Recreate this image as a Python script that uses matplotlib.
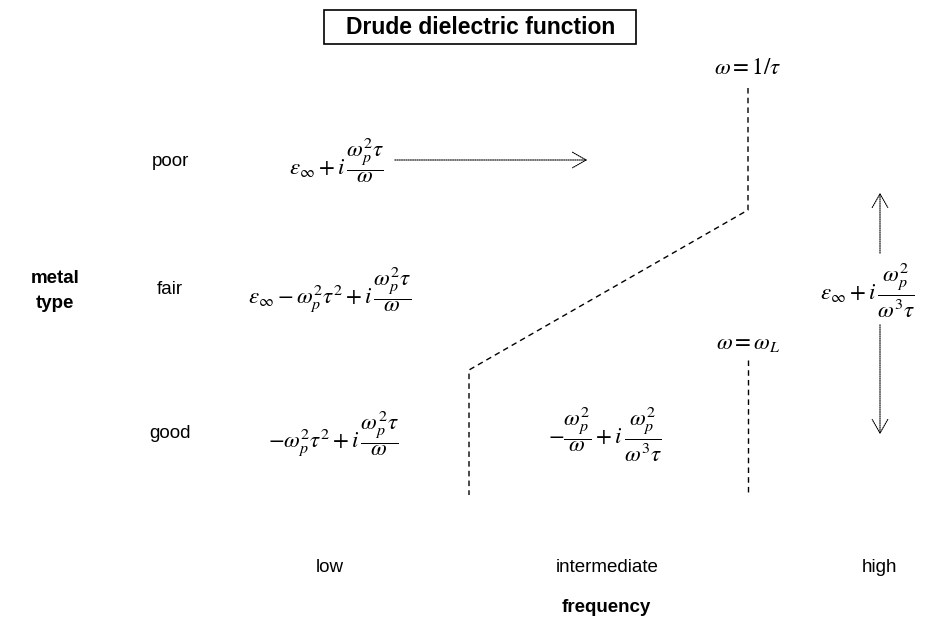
import matplotlib.pyplot as plt
from matplotlib.patches import Rectangle

plt.rcParams["mathtext.fontset"] = "stix"
plt.rcParams["font.family"] = ["Liberation Sans", "DejaVu Sans"]

TITLE = "Drude dielectric function"
METAL_LABELS = ["poor", "fair", "good"]
FREQ_LABELS = ["low", "intermediate", "high"]
FORMULAS = {
    "poor_low": r"$\varepsilon_\infty + i\,\dfrac{\omega_p^2\tau}{\omega}$",
    "fair_low": r"$\varepsilon_\infty - \omega_p^2\tau^2 + i\,\dfrac{\omega_p^2\tau}{\omega}$",
    "good_low": r"$-\omega_p^2\tau^2 + i\,\dfrac{\omega_p^2\tau}{\omega}$",
    "good_mid": r"$-\dfrac{\omega_p^2}{\omega} + i\,\dfrac{\omega_p^2}{\omega^3\tau}$",
    "high": r"$\varepsilon_\infty + i\,\dfrac{\omega_p^2}{\omega^3\tau}$",
}
BOUNDARY_LABELS = [r"$\omega = 1/\tau$", r"$\omega = \omega_L$"]

# layout in pixel coordinates of the 928x628 canvas
ROW_Y = [161, 290, 434]
COL_X = [330, 607, 880]

fig = plt.figure(figsize=(9.28, 6.28), dpi=100)
ax = fig.add_axes([0, 0, 1, 1])
ax.set_xlim(0, 928)
ax.set_ylim(628, 0)
ax.axis("off")

# title in an outlined box
ax.add_patch(Rectangle((324, 10), 312, 34, fc="white", ec="black", lw=1.2))
ax.text(481, 27, TITLE, ha="center", va="center", fontsize=16.5, fontweight="bold")

for label, y in zip(METAL_LABELS, ROW_Y):
    ax.text(170, y, label, ha="center", va="center", fontsize=13.5)
ax.text(55, 291, "metal\ntype", ha="center", va="center", fontsize=13.5,
        fontweight="bold", linespacing=1.6)

for label, x in zip(FREQ_LABELS, COL_X):
    ax.text(x, 568, label, ha="center", va="center", fontsize=13.5)
ax.text(606, 608, "frequency", ha="center", va="center", fontsize=13.5, fontweight="bold")

fs = 16.5
ax.text(337, 160, FORMULAS["poor_low"], ha="center", va="center", fontsize=fs)
ax.text(330, 290, FORMULAS["fair_low"], ha="center", va="center", fontsize=fs)
ax.text(333, 434, FORMULAS["good_low"], ha="center", va="center", fontsize=fs)
ax.text(605, 434, FORMULAS["good_mid"], ha="center", va="center", fontsize=fs)
ax.text(868, 290, FORMULAS["high"], ha="center", va="center", fontsize=fs)

ax.text(748, 68, BOUNDARY_LABELS[0], ha="center", va="center", fontsize=fs)
ax.text(748, 343, BOUNDARY_LABELS[1], ha="center", va="center", fontsize=fs)

# dashed regime boundaries
dash = dict(color="black", lw=1.0, ls=(0, (4, 3)))
ax.plot([748, 748, 469, 469], [88, 210, 370, 495], **dash)
ax.plot([748, 748], [360, 495], **dash)

# dotted arrows
arrow = dict(arrowstyle="->,head_length=0.7,head_width=0.4", mutation_scale=14,
             ls=(0, (1, 1)), lw=0.8, color="black")
ax.annotate("", xy=(590, 160), xytext=(392, 160), arrowprops=arrow)
ax.annotate("", xy=(880, 190), xytext=(880, 256), arrowprops=arrow)
ax.annotate("", xy=(880, 437), xytext=(880, 322), arrowprops=arrow)

fig.savefig("out.png", dpi=100)
